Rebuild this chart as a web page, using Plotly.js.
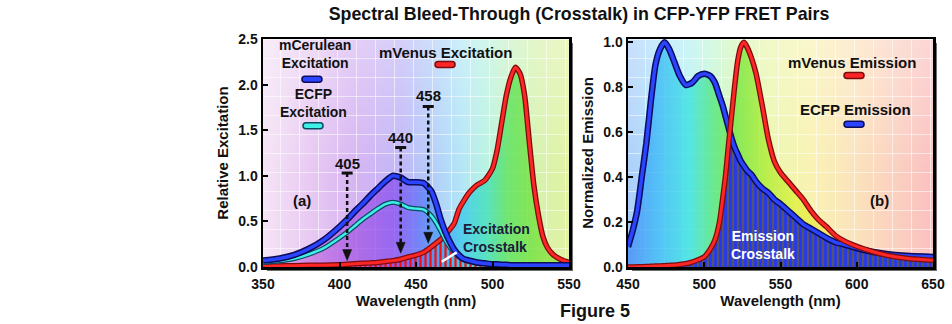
<!DOCTYPE html>
<html><head><meta charset="utf-8">
<script src="https://cdn.plot.ly/plotly-3.0.1.min.js"></script>
<style>html,body{margin:0;padding:0;background:#fff;}#chart{width:952px;height:324px;}</style>
</head><body><div id="chart"></div>
<script>
// ---------- DATA ----------
// (a) excitation spectra
const wlExc = [350,360,370,380,390,400,405,410,415,420,425,430,435,440,445,450,455,460,463,466,469,472,475,478,481,485,490,495,500,503,506,509,512,515,518,521,524,527,530,533,536,540,545,550];
const mCeruleanExc = [0.07,0.09,0.13,0.20,0.30,0.44,0.52,0.61,0.69,0.78,0.86,0.94,1.00,0.98,0.93,0.93,0.92,0.83,0.70,0.53,0.39,0.28,0.19,0.13,0.09,0.07,0.05,0.04,0.03,0.03,0.025,0.025,0.02,0.02,0.02,0.02,0.02,0.02,0.02,0.02,0.02,0.02,0.02,0.02];
const ecfpExc = [0.05,0.065,0.09,0.14,0.21,0.32,0.38,0.45,0.52,0.58,0.64,0.69,0.71,0.69,0.65,0.64,0.63,0.56,0.49,0.40,0.30,0.22,0.16,0.11,0.08,0.06,0.045,0.035,0.03,0.03,0.025,0.025,0.02,0.02,0.02,0.02,0.02,0.02,0.02,0.02,0.02,0.02,0.02,0.02];
const mVenusExc = [0.01,0.012,0.015,0.018,0.02,0.025,0.03,0.035,0.04,0.045,0.05,0.06,0.07,0.085,0.11,0.13,0.16,0.22,0.26,0.30,0.35,0.41,0.48,0.63,0.72,0.82,0.90,0.95,1.08,1.28,1.58,1.88,2.08,2.19,2.12,1.88,1.38,0.90,0.57,0.33,0.21,0.13,0.08,0.05];
// (b) emission spectra
const wlEm = [450,453,456,459,462,465,468,471,474,477,480,484,488,492,496,500,504,507,510,512,514,516,518,520,522,524,526,528,531,534,538,542,546,550,555,560,565,570,575,580,586,592,597,605,615,625,635,650];
const ecfpEm = [0.09,0.16,0.25,0.40,0.55,0.74,0.90,0.97,1.00,0.97,0.92,0.85,0.81,0.82,0.85,0.86,0.85,0.82,0.76,0.72,0.67,0.62,0.57,0.53,0.50,0.47,0.45,0.43,0.41,0.38,0.35,0.33,0.30,0.28,0.25,0.22,0.19,0.17,0.15,0.13,0.11,0.10,0.09,0.075,0.062,0.054,0.049,0.045];
const mVenusEm = [0.0,0.0,0.001,0.001,0.002,0.003,0.004,0.005,0.006,0.007,0.008,0.011,0.015,0.022,0.032,0.045,0.08,0.12,0.20,0.30,0.41,0.55,0.68,0.81,0.92,0.98,1.00,0.98,0.93,0.86,0.72,0.57,0.47,0.42,0.38,0.34,0.30,0.25,0.21,0.18,0.14,0.115,0.10,0.08,0.06,0.046,0.037,0.03];
// laser lines (nm), marker top and arrow tip (relative excitation)
const laserNm = [405, 440, 458];
const laserTop = [1.03, 1.31, 1.76];
const laserTip = [0.07, 0.15, 0.26];
// ticks
const xTicksExc = [350, 400, 450, 500, 550];
const yTicksExc = [0, 0.5, 1.0, 1.5, 2.0, 2.5];
const xTicksEm = [450, 500, 550, 600, 650];
const yTicksEm = [0, 0.2, 0.4, 0.6, 0.8, 1.0];

// ---------- STYLE ----------
const W = 952, H = 324;
const FONT = 'Liberation Sans, Arial, Helvetica, sans-serif';
const boxA = {l:263, r:569, t:39, b:267};
const boxB = {l:628, r:933, t:39, b:267};
const rangeA = {x:[350,550], y:[0,2.5]};
const rangeB = {x:[450,650], y:[0,1.015]};

const bgExcStops = [[350,'rgb(245,228,246)'],[380,'rgb(232,202,242)'],[410,'rgb(214,180,242)'],[440,'rgb(192,182,247)'],[460,'rgb(178,204,249)'],[480,'rgb(178,230,246)'],[495,'rgb(184,242,226)'],[510,'rgb(198,242,196)'],[530,'rgb(214,242,172)'],[550,'rgb(226,242,162)']];
const fillExcStops = [[350,'rgba(225,165,232,0.8)'],[380,'rgba(200,120,228,0.8)'],[410,'rgba(168,92,228,0.8)'],[435,'rgba(140,84,238,0.8)'],[450,'rgba(104,112,246,0.8)'],[465,'rgba(72,160,246,0.8)'],[480,'rgba(62,200,236,0.8)'],[495,'rgba(62,222,190,0.8)'],[510,'rgba(92,226,92,0.8)'],[525,'rgba(112,226,62,0.8)'],[550,'rgba(160,226,62,0.8)']];
const bgEmStops = [[450,'rgb(172,206,250)'],[470,'rgb(172,226,250)'],[490,'rgb(178,240,242)'],[505,'rgb(192,246,212)'],[520,'rgb(212,246,182)'],[545,'rgb(236,246,172)'],[570,'rgb(249,242,178)'],[600,'rgb(251,226,188)'],[625,'rgb(251,208,192)'],[650,'rgb(250,192,192)']];
const fillEmStops = [[450,'rgba(70,140,246,0.8)'],[470,'rgba(60,186,246,0.8)'],[490,'rgba(60,226,226,0.8)'],[505,'rgba(82,230,132,0.8)'],[520,'rgba(112,230,62,0.8)'],[540,'rgba(172,236,52,0.8)'],[560,'rgba(222,240,62,0.8)'],[580,'rgba(246,230,82,0.8)'],[610,'rgba(250,200,122,0.8)'],[650,'rgba(250,172,162,0.8)']];

function makeBg(w, h, stops, lo, hi) {
  const c = document.createElement('canvas');
  c.width = w; c.height = h;
  const ctx = c.getContext('2d');
  const g = ctx.createLinearGradient(0, 0, w, 0);
  stops.forEach(s => g.addColorStop((s[0]-lo)/(hi-lo), s[1]));
  ctx.fillStyle = g; ctx.fillRect(0, 0, w, h);
  const v = ctx.createLinearGradient(0, 0, 0, h);
  v.addColorStop(0, 'rgba(255,255,255,0.35)');
  v.addColorStop(0.6, 'rgba(255,255,255,0)');
  ctx.fillStyle = v; ctx.fillRect(0, 0, w, h);
  ctx.strokeStyle = 'rgba(255,255,255,0.55)'; ctx.lineWidth = 1;
  ctx.beginPath();
  for (let x = 17.5; x < w; x += 19) { ctx.moveTo(x, 0); ctx.lineTo(x, h); }
  for (let y = h - 18.5; y > 0; y -= 19) { ctx.moveTo(0, y); ctx.lineTo(w, y); }
  ctx.stroke();
  return c.toDataURL();
}
function scale(stops, lo, hi) { return stops.map(s => [(s[0]-lo)/(hi-lo), s[1]]); }
const minOf = (a, b) => a.map((v, i) => Math.min(v, b[i]));

const bgA = makeBg(boxA.r-boxA.l, boxA.b-boxA.t, bgExcStops, 350, 550);
const bgB = makeBg(boxB.r-boxB.l, boxB.b-boxB.t, bgEmStops, 450, 650);

function fillTrace(x, y, xa, ya, stops, lo, hi) {
  return {x, y, xaxis:xa, yaxis:ya, type:'scatter', mode:'lines', line:{width:0, shape:'spline', smoothing:0.6},
    fill:'tozeroy', fillcolor:'rgba(0,0,0,0)', fillgradient:{type:'horizontal', colorscale:scale(stops, lo, hi), start:lo, stop:hi},
    hoverinfo:'skip', showlegend:false};
}
function hatchTrace(x, y, xa, ya, fg, bg, sol) {
  return {x, y, xaxis:xa, yaxis:ya, type:'scatter', mode:'lines', line:{width:0, shape:'spline', smoothing:0.6},
    fill:'tozeroy', fillcolor:'rgba(0,0,0,0)', fillpattern:{shape:'|', size:5, solidity:sol, fgcolor:fg, bgcolor:bg},
    hoverinfo:'skip', showlegend:false};
}
function lineTraces(x, y, xa, ya, core, edge, wc, we) {
  return [
    {x, y, xaxis:xa, yaxis:ya, type:'scatter', mode:'lines', line:{color:edge, width:we, shape:'spline', smoothing:0.6}, hoverinfo:'skip', showlegend:false},
    {x, y, xaxis:xa, yaxis:ya, type:'scatter', mode:'lines', line:{color:core, width:wc, shape:'spline', smoothing:0.6}, hoverinfo:'skip', showlegend:false}
  ];
}
const BLUE = '#2a44ff', BLUE_E = '#0c0c5c';
const RED = '#ff2626', RED_E = '#7a0c0c';
const CYAN = '#3ff0e6', CYAN_E = '#0b4a62';

const traces = [
  fillTrace(wlExc, mCeruleanExc, 'x', 'y', fillExcStops, 350, 550),
  fillTrace(wlExc, mVenusExc, 'x', 'y', fillExcStops, 350, 550),
  hatchTrace(wlExc, minOf(mCeruleanExc, mVenusExc), 'x', 'y', '#f01010', 'rgba(0,0,0,0)', 0.45),
  ...lineTraces(wlExc, mVenusExc, 'x', 'y', RED, RED_E, 3, 5.5),
  ...lineTraces(wlExc, ecfpExc, 'x', 'y', CYAN, CYAN_E, 2.5, 5),
  ...lineTraces(wlExc, mCeruleanExc, 'x', 'y', BLUE, BLUE_E, 3.5, 6.5),
  fillTrace(wlEm, ecfpEm, 'x2', 'y2', fillEmStops, 450, 650),
  fillTrace(wlEm, mVenusEm, 'x2', 'y2', fillEmStops, 450, 650),
  hatchTrace(wlEm, minOf(ecfpEm, mVenusEm), 'x2', 'y2', '#2438f2', '#54546c', 0.55),
  ...lineTraces(wlEm, ecfpEm, 'x2', 'y2', BLUE, BLUE_E, 3.5, 6.5),
  ...lineTraces(wlEm, mVenusEm, 'x2', 'y2', RED, RED_E, 3, 5.5)
];

// ---------- LAYOUT ----------
const tickFont = {family:FONT, size:14, color:'#111', weight:'bold'};
const titleFont = {family:FONT, size:15, color:'#111', weight:'bold'};
function xAxis(box, range, ticks) {
  return {domain:[box.l/W, box.r/W], range, tickvals:ticks, ticks:'inside', ticklen:5, tickwidth:2, tickcolor:'#000',
    showline:true, linewidth:2.5, linecolor:'#000', mirror:true, showgrid:false, zeroline:false, tickfont:tickFont,
    ticklabelstandoff:3, title:{text:'Wavelength (nm)', font:titleFont, standoff:2}, fixedrange:true};
}
function yAxis(box, range, ticks, title) {
  return {domain:[1-box.b/H, 1-box.t/H], range, tickvals:ticks, tickformat:'.1f', ticks:'inside', ticklen:5, tickwidth:2, tickcolor:'#000',
    showline:true, linewidth:2.5, linecolor:'#000', mirror:true, showgrid:false, zeroline:false, tickfont:tickFont,
    title:{text:title, font:titleFont, standoff:6}, fixedrange:true};
}
const xa = xAxis(boxA, rangeA.x, xTicksExc); xa.anchor = 'y';
const ya = yAxis(boxA, rangeA.y, yTicksExc, 'Relative Excitation'); ya.anchor = 'x';
const xb = xAxis(boxB, rangeB.x, xTicksEm); xb.anchor = 'y2';
const yb = yAxis(boxB, rangeB.y, yTicksEm, 'Normalized Emission'); yb.anchor = 'x2';

const pill = 'M -7,-3 L 7,-3 Q 10,-3 10,0 Q 10,3 7,3 L -7,3 Q -10,3 -10,0 Q -10,-3 -7,-3 Z';
function swatch(xr, yr, x, y, color, edge) {
  return {type:'path', xref:xr, yref:yr, xsizemode:'pixel', ysizemode:'pixel', xanchor:x, yanchor:y, path:pill,
    fillcolor:color, line:{color:edge, width:1.5}, layer:'above'};
}
function shadow(box) {
  return {type:'rect', xref:'paper', yref:'paper', x0:(box.l+4)/W, x1:(box.r+4)/W, y0:1-(box.b+4)/H, y1:1-(box.t+4)/H,
    fillcolor:'rgba(60,60,60,0.75)', line:{width:0}, layer:'below'};
}
const shapes = [shadow(boxA), shadow(boxB),
  swatch('x','y', 382, 2.06, BLUE, BLUE_E),
  swatch('x','y', 382.7, 1.55, CYAN, CYAN_E),
  swatch('x','y', 469, 2.22, RED, RED_E),
  swatch('x2','y2', 598.2, 0.853, RED, RED_E),
  swatch('x2','y2', 598.2, 0.636, BLUE, BLUE_E),
  {type:'line', xref:'x', yref:'y', x0:466.8, y0:0.058, x1:476.6, y1:0.16, line:{color:'#fff', width:2.5}, layer:'above'}
];
laserNm.forEach((nm, i) => {
  shapes.push({type:'line', xref:'x', yref:'y', x0:nm, x1:nm, y0:laserTop[i], y1:laserTip[i]+0.06, line:{color:'#111', width:2.5, dash:'4px,3px'}, layer:'above'});
  shapes.push({type:'line', xref:'x', yref:'y', xsizemode:'pixel', xanchor:nm, x0:-5.5, x1:5.5, y0:laserTop[i], y1:laserTop[i], line:{color:'#111', width:3}, layer:'above'});
  shapes.push({type:'path', xref:'x', yref:'y', xsizemode:'pixel', ysizemode:'pixel', xanchor:nm, yanchor:laserTip[i], path:'M -4.5,11 L 4.5,11 L 0,0 Z', fillcolor:'#111', line:{color:'#111', width:0.5}, layer:'above'});
});

function txt(xr, yr, x, y, text, opts) {
  return Object.assign({xref:xr, yref:yr, x, y, text, showarrow:false, xanchor:'center', yanchor:'middle',
    font:{family:FONT, size:15, color:'#111', weight:'bold'}}, opts || {});
}
const f2 = (c) => ({font:{family:FONT, size:14, color:c, weight:'bold'}});
const annotations = [
  txt('x','y', 384, 2.335, 'mCerulean<br>Excitation', f2('#111')),
  txt('x','y', 382.7, 1.80, 'ECFP<br>Excitation', f2('#111')),
  txt('x','y', 469.5, 2.35, 'mVenus Excitation'),
  txt('x','y', laserNm[0], 1.137, String(laserNm[0])),
  txt('x','y', laserNm[1], 1.42, String(laserNm[1])),
  txt('x','y', laserNm[2], 1.88, String(laserNm[2])),
  txt('x','y', 375.8, 0.727, '(a)'),
  txt('x','y', 479.5, 0.323, 'Excitation<br>Crosstalk', Object.assign({xanchor:'left', align:'left'}, f2('#1c1c3c'))),
  txt('x2','y2', 597.2, 0.912, 'mVenus Emission'),
  txt('x2','y2', 598.9, 0.702, 'ECFP Emission'),
  txt('x2','y2', 614.6, 0.298, '(b)'),
  txt('x2','y2', 538.8, 0.098, 'Emission<br>Crosstalk', f2('#fff')),
  txt('paper','paper', 595/W, 1-311/H, 'Figure 5', {font:{family:FONT, size:18, color:'#111', weight:'bold'}})
];

const layout = {
  width:W, height:H, margin:{l:0, r:0, t:0, b:0}, paper_bgcolor:'#fff', plot_bgcolor:'#fff', showlegend:false,
  title:{text:'Spectral Bleed-Through (Crosstalk) in CFP-YFP FRET Pairs', x:579/W, xanchor:'center', y:1-14/H, yanchor:'middle', yref:'container',
    font:{family:FONT, size:17.8, color:'#111', weight:'bold'}},
  xaxis:xa, yaxis:ya, xaxis2:xb, yaxis2:yb,
  images:[
    {source:bgA, xref:'x', yref:'y', x:350, y:2.5, sizex:200, sizey:2.5, sizing:'stretch', xanchor:'left', yanchor:'top', layer:'below'},
    {source:bgB, xref:'x2', yref:'y2', x:450, y:1.015, sizex:200, sizey:1.015, sizing:'stretch', xanchor:'left', yanchor:'top', layer:'below'}
  ],
  shapes, annotations
};
Plotly.newPlot('chart', traces, layout, {staticPlot:true, displayModeBar:false});
</script></body></html>
